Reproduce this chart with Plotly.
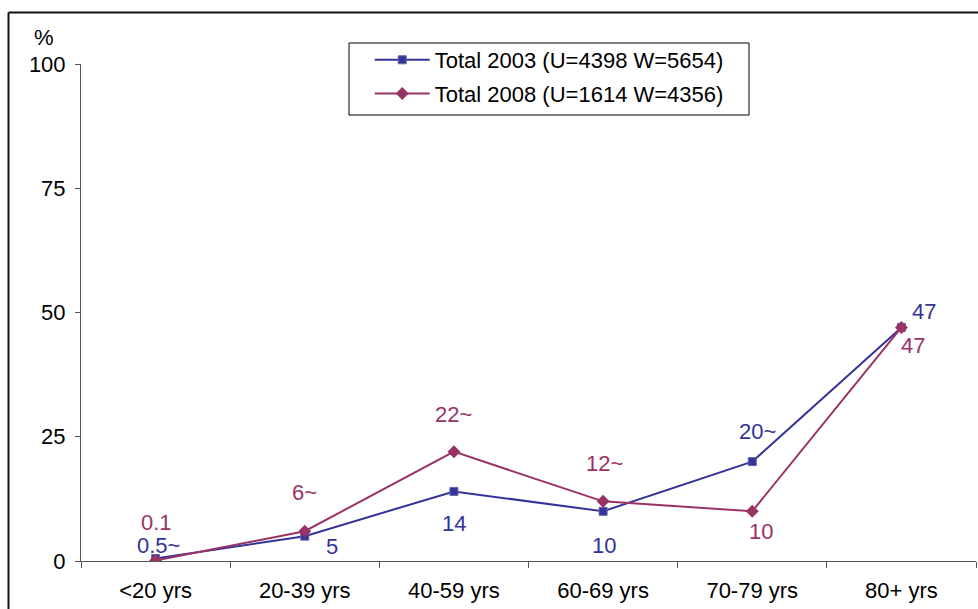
import plotly.graph_objects as go

# Age groups and percentage shares per survey year
age_groups = ["<20 yrs", "20-39 yrs", "40-59 yrs", "60-69 yrs", "70-79 yrs", "80+ yrs"]
total_2003 = [0.5, 5, 14, 10, 20, 47]
total_2008 = [0.1, 6, 22, 12, 10, 47]
labels_2003 = ["0.5~", "5", "14", "10", "20~", "47"]
labels_2008 = ["0.1", "6~", "22~", "12~", "10", "47"]
y_ticks = [0, 25, 50, 75, 100]

BLUE = "#333399"
PURPLE = "#993366"
FONT = "Liberation Sans, Arial, sans-serif"
FS = 22

# label offsets (px) relative to each point
shift_2003 = [(3, 13), (27, -10), (0, -32), (1, -34), (5, 30), (23, 16)]
shift_2008 = [(1, 38), (0, 39), (0, 37), (1, 38), (9, -20), (12, -18)]

fig = go.Figure()
fig.add_trace(go.Scatter(
    x=age_groups, y=total_2003, mode="lines+markers",
    name="Total 2003 (U=4398 W=5654)",
    line=dict(color=BLUE, width=2),
    marker=dict(symbol="square", size=8, color=BLUE,
                line=dict(color="#6666aa", width=1)),
    legendgroup="a",
))
fig.add_trace(go.Scatter(
    x=age_groups, y=total_2008, mode="lines+markers",
    name="Total 2008 (U=1614 W=4356)",
    line=dict(color=PURPLE, width=2),
    marker=dict(symbol="diamond", size=10, color=PURPLE),
    legendgroup="b",
))

annotations = []
for cat, val, txt, (dx, dy) in zip(age_groups, total_2003, labels_2003, shift_2003):
    annotations.append(dict(x=cat, y=val, xref="x", yref="y", text=txt,
                            showarrow=False, xshift=dx, yshift=dy,
                            font=dict(color=BLUE, size=FS, family=FONT)))
for cat, val, txt, (dx, dy) in zip(age_groups, total_2008, labels_2008, shift_2008):
    annotations.append(dict(x=cat, y=val, xref="x", yref="y", text=txt,
                            showarrow=False, xshift=dx, yshift=dy,
                            font=dict(color=PURPLE, size=FS, family=FONT)))
annotations.append(dict(x=-0.041, y=1.054, xref="paper", yref="paper", text="%",
                        showarrow=False, xanchor="center", yanchor="middle",
                        font=dict(color="black", size=FS, family=FONT)))

# outer chart frame (left and top edges visible) and the legend box
shapes = [
    dict(type="line", xref="paper", yref="paper", x0=-0.081, x1=1.02, y0=1.1036, y1=1.1036,
         line=dict(color="#111111", width=2)),
    dict(type="line", xref="paper", yref="paper", x0=-0.081, x1=-0.081, y0=1.1036, y1=-0.12,
         line=dict(color="#111111", width=2)),
    dict(type="rect", xref="paper", yref="paper",
         x0=(349 - 81) / 895, x1=(749 - 81) / 895,
         y0=(561 - 115) / 497, y1=(561 - 43) / 497,
         line=dict(color="black", width=1), fillcolor="rgba(0,0,0,0)", layer="below"),
]

fig.update_layout(
    width=978, height=609,
    margin=dict(l=81, r=2, t=64, b=48),
    paper_bgcolor="white", plot_bgcolor="white",
    font=dict(family=FONT, size=FS, color="black"),
    showlegend=True,
    legend=dict(x=(376 - 81) / 895 - 0.007, y=(561 - 39) / 497, xanchor="left", yanchor="top",
                borderwidth=0, bgcolor="rgba(0,0,0,0)",
                font=dict(size=FS, family=FONT), traceorder="grouped",
                tracegroupgap=2, itemwidth=55),
    annotations=annotations,
    shapes=shapes,
)
fig.update_xaxes(
    type="category", range=[-0.5, 5.5], showline=True, linecolor="#555555", linewidth=1,
    ticks="outside", ticklen=6, tickcolor="#555555", tickson="boundaries",
    showgrid=False, zeroline=False, ticklabelstandoff=10,
)
fig.update_yaxes(
    range=[0, 100], tickvals=y_ticks, showline=True, linecolor="#555555", linewidth=1,
    ticks="outside", ticklen=5, tickcolor="#555555", showgrid=False, zeroline=False,
    ticklabelstandoff=5,
)

fig.write_html("out.html")
